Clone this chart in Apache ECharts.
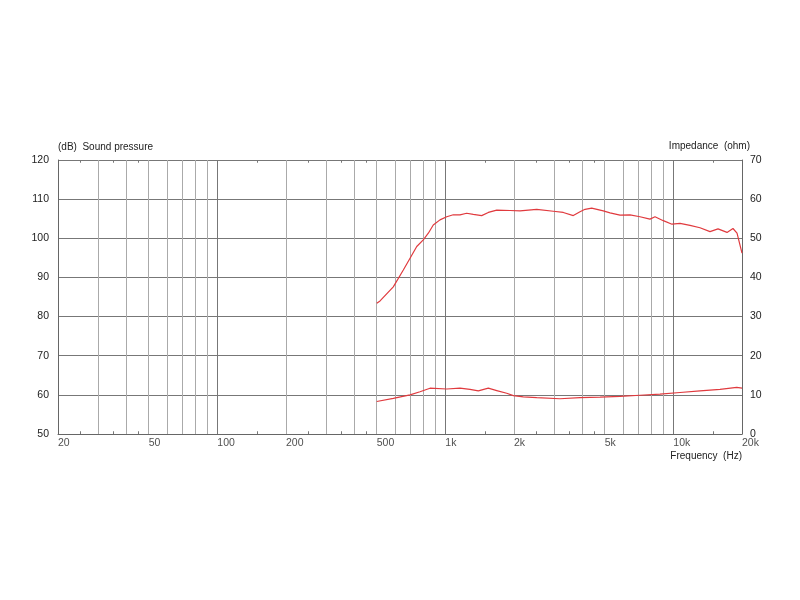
<!DOCTYPE html>
<html>
<head>
<meta charset="utf-8">
<script src="https://cdn.jsdelivr.net/npm/echarts@6/dist/echarts.min.js"></script>
<style>html,body{margin:0;padding:0;background:#fff}#c{width:800px;height:600px}</style>
</head>
<body>
<div id="c"></div>
<script>
// Sound pressure (dB) vs frequency (Hz)
const splFreq = [500,517,591,654,700,749,800,842,885,947,1014,1083,1159,1240,1326,1443,1543,1680,1921,2125,2516,2975,3290,3640,3896,4098,4383,4928,5275,5834,6454,7138,7900,8308,9034,9863,10696,11830,13086,14475,15698,17192,18258,19020,20000];
const splDb = [83.4,84.0,87.6,91.9,94.9,97.9,99.6,101.3,103.4,104.7,105.5,106.0,106.0,106.4,106.1,105.8,106.6,107.2,107.1,107.0,107.4,106.9,106.6,105.8,106.8,107.4,107.7,107.0,106.5,105.9,106.0,105.5,104.9,105.5,104.5,103.6,103.8,103.3,102.7,101.7,102.4,101.5,102.5,101.3,96.2];
// Impedance (ohm) vs frequency (Hz)
const impFreq = [500,591,700,774,856,1014,1159,1282,1395,1543,1680,1858,1986,2197,2516,3182,3896,4768,5834,7138,8738,10696,13086,16018,18964,20000];
const impOhm = [8.3,9.1,10.0,10.8,11.7,11.5,11.7,11.4,11.0,11.7,11.1,10.4,9.8,9.5,9.3,9.0,9.3,9.4,9.6,9.9,10.2,10.6,11.0,11.4,11.9,11.7];
// Axis tick definitions
const xLabelValues = [20,50,100,200,500,1000,2000,5000,10000,20000];
const xLabelTexts = ['20','50','100','200','500','1k','2k','5k','10k','20k'];
const gridFreqs = [30,40,50,60,70,80,90,200,300,400,500,600,700,800,900,2000,3000,4000,5000,6000,7000,8000,9000];
const decadeFreqs = [100,1000,10000];
const minorTickFreqs = [25,35,45,150,250,350,450,1500,2500,3500,4500,15000];

const FONT = 'Liberation Sans';
const txt = {fontFamily: FONT, fontSize: 10.5, color: '#222'};

const zip = (a, b) => a.map((v, i) => [v, b[i]]);

const gridLines = gridFreqs.map(f => ({xAxis: f, lineStyle: {color: '#aaa', width: 1, type: 'solid'}}))
  .concat(decadeFreqs.map(f => ({xAxis: f, lineStyle: {color: '#777', width: 1, type: 'solid'}})));
const tickLines = [];
minorTickFreqs.forEach(f => {
  tickLines.push([{coord: [f, 50]}, {coord: [f, 50.7]}]);
  tickLines.push([{coord: [f, 120]}, {coord: [f, 119.3]}]);
});

const chart = echarts.init(document.getElementById('c'));
chart.setOption({
  animation: false,
  backgroundColor: '#fff',
  grid: {left: 58, right: 58, top: 160, bottom: 166, containLabel: false},
  xAxis: {
    type: 'log', logBase: 10, min: 20, max: 20000,
    axisLine: {show: true, onZero: false, lineStyle: {color: '#666', width: 1}},
    axisTick: {show: false}, axisLabel: {show: false}, splitLine: {show: false}, minorTick: {show: false}
  },
  yAxis: [
    {
      type: 'value', min: 50, max: 120, interval: 10, position: 'left',
      name: '(dB)  Sound pressure', nameLocation: 'end', nameGap: 8,
      nameTextStyle: Object.assign({}, txt, {align: 'left', fontSize: 10}),
      axisLine: {show: true, lineStyle: {color: '#666'}}, axisTick: {show: false},
      axisLabel: Object.assign({margin: 9}, txt),
      splitLine: {show: true, lineStyle: {color: '#777', width: 1}}
    },
    {
      type: 'value', min: 0, max: 70, interval: 10, position: 'right',
      name: 'Impedance  (ohm)', nameLocation: 'end', nameGap: 9,
      nameTextStyle: Object.assign({}, txt, {align: 'right', fontSize: 10, padding: [0, -8, 0, 0]}),
      axisLine: {show: true, lineStyle: {color: '#666'}}, axisTick: {show: false},
      axisLabel: Object.assign({margin: 8}, txt),
      splitLine: {show: false}
    }
  ],
  graphic: [{
    type: 'text', right: 58, top: 451,
    style: {text: 'Frequency  (Hz)', font: '10px "Liberation Sans"', fill: '#222'}
  }],
  series: [
    {
      name: 'grid', type: 'line', yAxisIndex: 0, z: 1, silent: true,
      data: [[20, 50], [20000, 50]], symbol: 'none', lineStyle: {width: 0, opacity: 0},
      markLine: {silent: true, symbol: 'none', label: {show: false}, animation: false,
        data: gridLines.concat(tickLines.map(p => [Object.assign({lineStyle: {color: '#777', width: 1}}, p[0]), p[1]]))}
    },
    {
      name: 'labels', type: 'scatter', yAxisIndex: 0, z: 2, silent: true,
      data: xLabelValues.map((v, i) => ({value: [v, 50], name: xLabelTexts[i]})),
      symbolSize: 0,
      label: Object.assign({show: true, position: 'bottom', distance: 4, align: 'left', formatter: p => p.name}, txt)
    },
    {
      name: 'Sound pressure', type: 'line', yAxisIndex: 0, z: 5,
      data: zip(splFreq, splDb), symbol: 'none', smooth: false,
      lineStyle: {color: '#e03a3e', width: 1.2}
    },
    {
      name: 'Impedance', type: 'line', yAxisIndex: 1, z: 5,
      data: zip(impFreq, impOhm), symbol: 'none', smooth: false,
      lineStyle: {color: '#e03a3e', width: 1.2}
    }
  ]
});
</script>
</body>
</html>
